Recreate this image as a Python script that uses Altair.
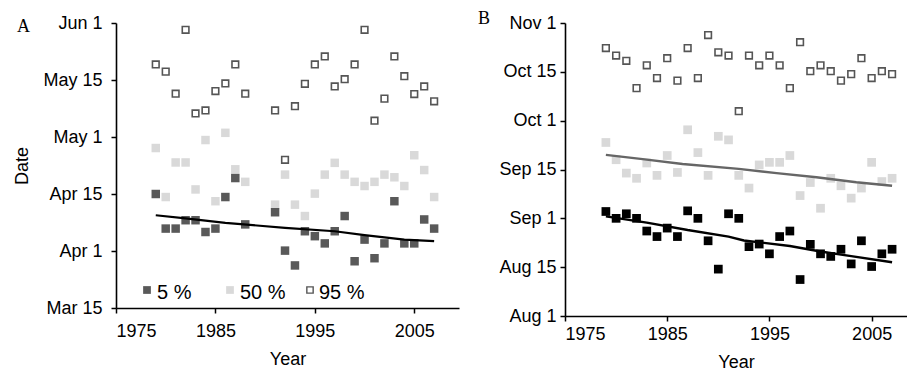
import json
import altair as alt
import pandas as pd

# ---------------- data ----------------
# Panel A: spring dates, unit = days after Mar 15 (axis ticks every 15 units)
years_a = [1979, 1980, 1981, 1982, 1983, 1984, 1985, 1986, 1987, 1988,
           1991, 1992, 1993, 1994, 1995, 1996, 1997, 1998, 1999, 2000,
           2001, 2002, 2003, 2004, 2005, 2006, 2007]
a_p5 = [30.0, 20.9, 20.9, 23.1, 23.1, 20.0, 20.9, 29.2, 34.2, 22.0,
        25.2, 15.1, 11.2, 20.2, 18.9, 17.0, 20.2, 24.2, 12.3, 18.0,
        13.1, 17.0, 28.1, 17.0, 17.0, 23.3, 20.9]
a_p50 = [42.1, 29.2, 38.3, 38.3, 31.2, 44.2, 28.1, 46.1, 36.5, 33.2,
         27.2, 35.1, 27.2, 24.2, 30.1, 35.1, 38.2, 35.1, 33.2, 32.1,
         33.2, 35.1, 34.4, 32.1, 40.2, 36.3, 29.2]
a_p95 = [64.1, 62.2, 56.4, 73.2, 51.2, 52.0, 57.1, 59.1, 64.1, 56.4,
         52.0, 39.0, 53.1, 59.0, 64.1, 66.2, 58.3, 60.2, 64.1, 73.2,
         49.3, 55.1, 66.2, 61.0, 56.3, 58.3, 54.4]
a_trend_years = [1979, 1982, 1986, 1992, 1997, 2000, 2004, 2007]
a_trend = [24.4, 23.6, 22.4, 21.1, 20.2, 19.2, 18.0, 17.6]

# Panel B: autumn dates, unit = days after Aug 1 (axis ticks every 15 units)
years_b = [1979, 1980, 1981, 1982, 1983, 1984, 1985, 1986, 1987, 1988,
           1989, 1990, 1991, 1992, 1993, 1994, 1995, 1996, 1997, 1998,
           1999, 2000, 2001, 2002, 2003, 2004, 2005, 2006, 2007]
b_p5 = [32.1, 30.0, 31.4, 30.0, 26.1, 24.4, 27.0, 24.4, 32.3, 30.0,
        23.1, 14.4, 31.4, 30.0, 21.3, 22.1, 19.1, 24.4, 26.1, 11.2,
        22.0, 19.1, 18.3, 20.5, 16.0, 23.1, 15.2, 19.1, 20.5]
b_p50 = [53.3, 48.0, 43.9, 42.3, 47.0, 43.2, 49.3, 44.1, 57.2, 50.2,
         43.2, 55.2, 54.1, 43.2, 39.3, 46.4, 47.2, 47.2, 49.3, 37.0,
         41.0, 33.1, 42.3, 40.0, 36.2, 39.3, 47.2, 41.3, 42.3]
b_p95 = [82.3, 80.0, 78.4, 70.0, 77.0, 73.1, 79.2, 72.3, 82.3, 73.1,
         86.3, 81.0, 80.0, 62.9, 80.0, 77.0, 80.0, 77.0, 70.0, 84.1,
         75.2, 77.0, 75.2, 72.3, 74.3, 79.2, 73.1, 75.2, 74.3]
b_trend5_years = [1979, 1983, 1987, 1991, 1992.5, 1997, 2000, 2003, 2007]
b_trend5 = [30.6, 28.7, 26.4, 24.4, 23.2, 21.5, 19.8, 18.4, 16.5]
b_trend50_years = [1979, 1982.6, 1986.5, 1992, 1995.7, 1999.6, 2003.5, 2007]
b_trend50 = [49.5, 48.2, 46.7, 45.2, 43.9, 42.6, 41.1, 40.0]

a_tick_labels = ["Mar 15", "Apr 1", "Apr 15", "May 1", "May 15", "Jun 1"]
b_tick_labels = ["Aug 1", "Aug 15", "Sep 1", "Sep 15", "Oct 1", "Oct 15", "Nov 1"]
x_ticks = [1975, 1985, 1995, 2005]
legend_labels = ["5 %", "50 %", "95 %"]
panel_labels = ["A", "B"]

FONT = "Liberation Sans"
DARK = "#595959"
LIGHT = "#d9d9d9"
OPEN = "#555555"


def pts(years, vals):
    return pd.DataFrame({"Year": years, "Value": vals})


def y_enc(labels, title, pad):
    n = len(labels)
    expr = json.dumps(labels) + "[round(datum.value / 15)]"
    return alt.Y("Value:Q",
                 scale=alt.Scale(domain=[0, 15 * (n - 1)], nice=False, zero=False),
                 axis=alt.Axis(values=[15 * i for i in range(n)], labelExpr=expr,
                               title=title, labelPadding=pad, titlePadding=11))


def x_enc(dom_end, pad, tpad):
    return alt.X("Year:Q",
                 scale=alt.Scale(domain=[1975, dom_end], nice=False, zero=False),
                 axis=alt.Axis(values=x_ticks, format="d", title="Year",
                               labelPadding=pad, titlePadding=tpad))


# ---------------- panel A ----------------
xA = x_enc(2009.5, 9, 10)
yA = y_enc(a_tick_labels, "Date", 9)

a50 = alt.Chart(pts(years_a, a_p50)).mark_point(
    shape="square", filled=True, color=LIGHT, size=72, opacity=1, strokeWidth=0
).encode(x=xA, y=yA)
a5 = alt.Chart(pts(years_a, a_p5)).mark_point(
    shape="square", filled=True, color=DARK, size=72, opacity=1, strokeWidth=0
).encode(x=xA, y=yA)
a95 = alt.Chart(pts(years_a, a_p95)).mark_point(
    shape="square", filled=False, color=OPEN, size=44, opacity=1, strokeWidth=1.6
).encode(x=xA, y=yA)
aline = alt.Chart(pts(a_trend_years, a_trend)).mark_line(
    color="black", strokeWidth=2.2
).encode(x=xA, y=yA)

leg_df = pd.DataFrame({"label": legend_labels})
leg_sym_x = [31, 114, 194]
leg_txt_x = [41, 124, 203]
leg_styles = [dict(filled=True, color=DARK, size=60, strokeWidth=0),
              dict(filled=True, color=LIGHT, size=60, strokeWidth=0),
              dict(filled=False, color=OPEN, size=40, strokeWidth=1.4)]
leg_layers = []
for i in range(3):
    one = leg_df.iloc[[i]]
    leg_layers.append(
        alt.Chart(one).mark_point(shape="square", opacity=1, **leg_styles[i]).encode(
            x=alt.value(leg_sym_x[i]), y=alt.value(267))
    )
    leg_layers.append(
        alt.Chart(one).mark_text(font=FONT, fontSize=20, align="left",
                                 baseline="alphabetic", color="black").encode(
            text="label:N", x=alt.value(leg_txt_x[i]), y=alt.value(276))
    )

labA = alt.Chart(pd.DataFrame({"t": [panel_labels[0]]})).mark_text(
    font="Liberation Serif", fontSize=18, align="left", baseline="alphabetic",
    color="black").encode(text="t:N", x=alt.value(-99), y=alt.value(9))

panelA = alt.layer(a50, a5, a95, aline, *leg_layers, labA).properties(
    width=343, height=285)

# ---------------- panel B ----------------
xB = x_enc(2008.46, 4, 10)
yB = y_enc(b_tick_labels, None, 4)

b50 = alt.Chart(pts(years_b, b_p50)).mark_point(
    shape="square", filled=True, color=LIGHT, size=76, opacity=1, strokeWidth=0
).encode(x=xB, y=yB)
b5 = alt.Chart(pts(years_b, b_p5)).mark_point(
    shape="square", filled=True, color="black", size=76, opacity=1, strokeWidth=0
).encode(x=xB, y=yB)
b95 = alt.Chart(pts(years_b, b_p95)).mark_point(
    shape="square", filled=False, color=OPEN, size=44, opacity=1, strokeWidth=1.6
).encode(x=xB, y=yB)
bline50 = alt.Chart(pts(b_trend50_years, b_trend50)).mark_line(
    color="#666666", strokeWidth=2.4
).encode(x=xB, y=yB)
bline5 = alt.Chart(pts(b_trend5_years, b_trend5)).mark_line(
    color="black", strokeWidth=2.4
).encode(x=xB, y=yB)

labB = alt.Chart(pd.DataFrame({"t": [panel_labels[1]]})).mark_text(
    font="Liberation Serif", fontSize=18, align="left", baseline="alphabetic",
    color="black").encode(text="t:N", x=alt.value(-87), y=alt.value(1))

panelB = alt.layer(b50, b5, b95, bline50, bline5, labB).properties(
    width=342, height=293)

chart = alt.hconcat(panelA, panelB, spacing=19).resolve_scale(
    x="independent", y="independent"
).properties(
    padding={"left": 5, "top": 2, "right": 0, "bottom": 0}
).configure_view(stroke=None).configure_axis(
    grid=False, domainColor="black", tickColor="black", labelColor="black",
    titleColor="black", labelFont=FONT, titleFont=FONT, labelFontSize=18,
    titleFontSize=18, titleFontWeight="normal", domainWidth=1.6, tickWidth=1.5,
    tickSize=5
)

chart.save("out.html", embed_options={"renderer": "svg", "actions": False})
